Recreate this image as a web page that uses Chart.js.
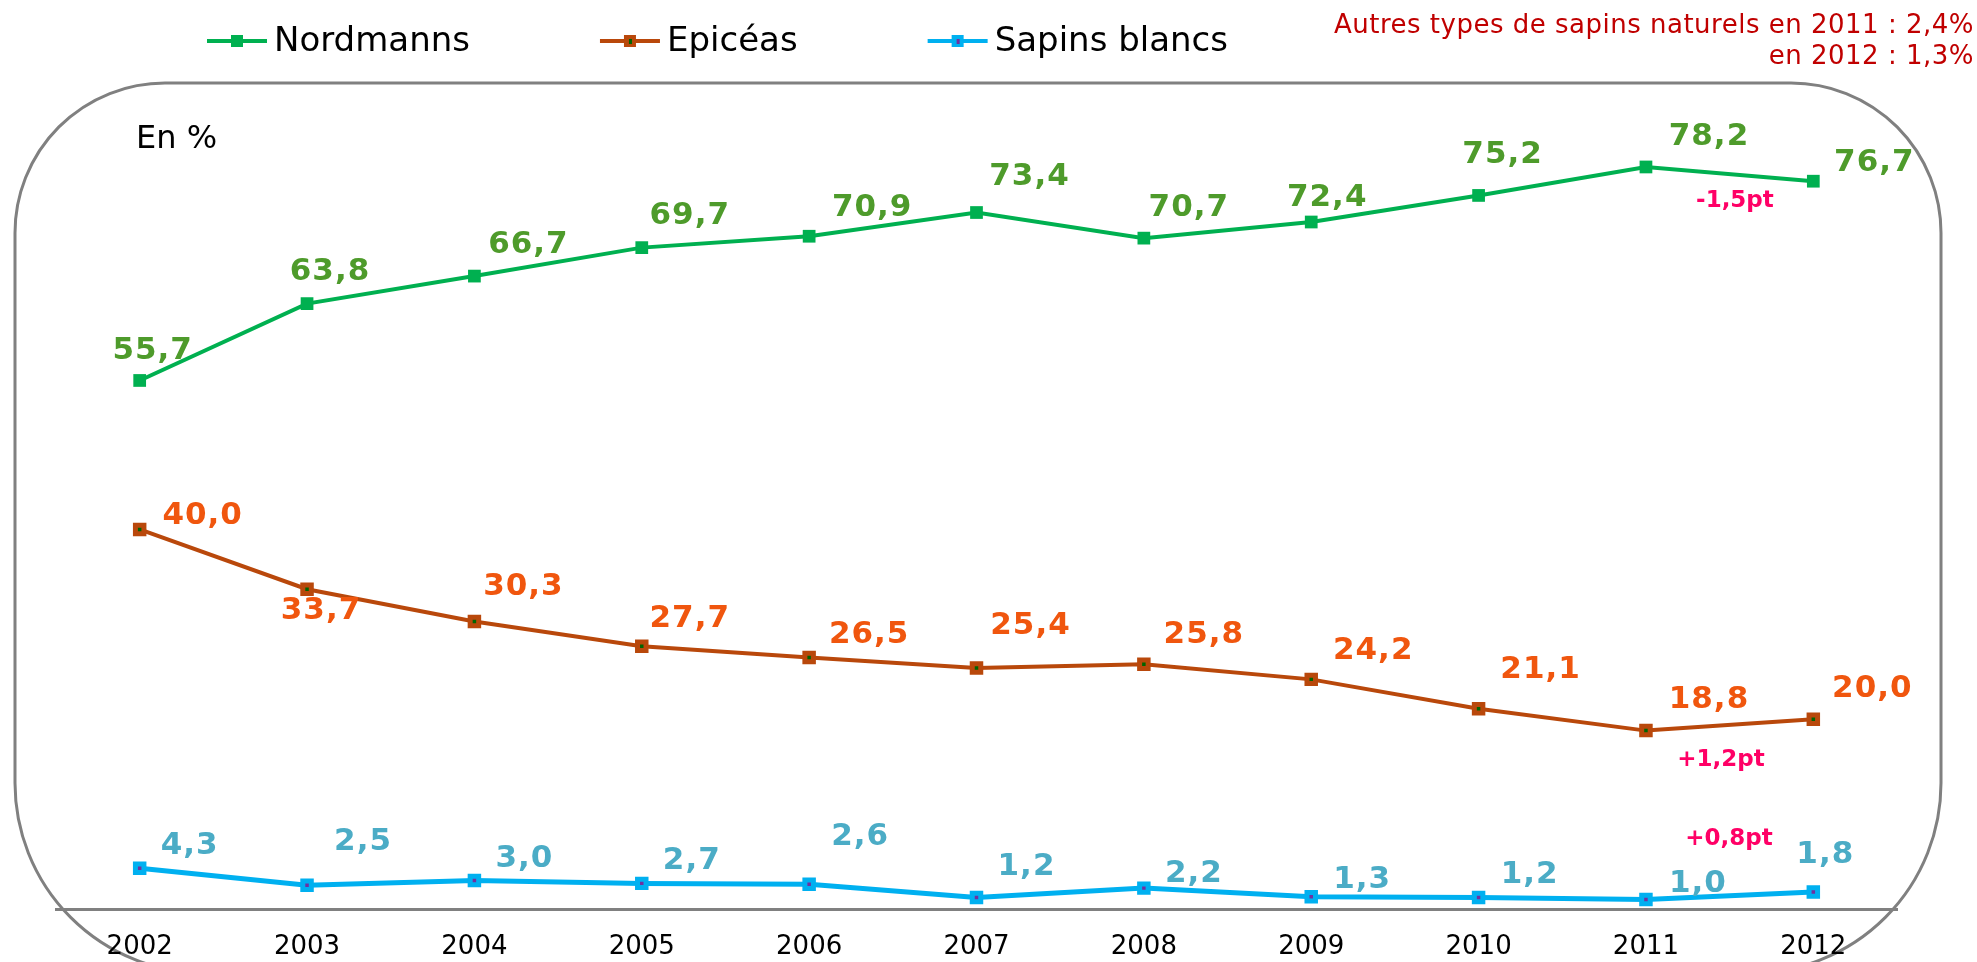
<!DOCTYPE html>
<html>
<head>
<meta charset="utf-8">
<script src="https://cdn.jsdelivr.net/npm/chart.js@4.4.0/dist/chart.umd.min.js"></script>
<style>
  html, body { margin: 0; padding: 0; background: #fff; }
  #wrap { position: relative; width: 1977px; height: 962px; }
</style>
</head>
<body>
<div id="wrap"><canvas id="myChart" width="1977" height="962"></canvas></div>
<script>
// data (en %)
var years = ["2002", "2003", "2004", "2005", "2006", "2007", "2008", "2009", "2010", "2011", "2012"];
var nordmanns = [55.7, 63.8, 66.7, 69.7, 70.9, 73.4, 70.7, 72.4, 75.2, 78.2, 76.7];
var epiceas = [40.0, 33.7, 30.3, 27.7, 26.5, 25.4, 25.8, 24.2, 21.1, 18.8, 20.0];
var sapinsBlancs = [4.3, 2.5, 3.0, 2.7, 2.6, 1.2, 2.2, 1.3, 1.2, 1.0, 1.8];
var evolutions = ["-1,5pt", "+1,2pt", "+0,8pt"];   // 2011 -> 2012, one per series
var noteLines = ["Autres types de sapins naturels en 2011 : 2,4%", "en 2012 : 1,3%"];

// where each value label sits, relative to its point
var labelOffsets = [
    [[13, -30], [23, -32], [54, -31], [48, -32], [63, -28], [53, -36], [45, -30], [16, -24], [24, -40], [63, -30], [61, -18]],
    [[63, -13], [14, 22], [49, -35], [48, -27], [60, -23], [54, -42], [60, -29], [62, -28], [62, -39], [63, -31], [59, -30]],
    [[50, -22], [56, -43], [50, -22], [50, -22], [51, -47], [50, -31], [50, -14], [51, -17], [51, -23], [52, -16], [12, -37]]
];
var evoOffsets = [[89, 34], [75, 29], [83, -60]];
var labelColors = ["#4e9b2b", "#f0560e", "#4bacc6"];

function fmt(v) {
    return v.toFixed(1).replace(".", ",");
}

var decor = {
    id: 'decor',
    beforeDraw: function (chart) {
        var ctx = chart.ctx;
        ctx.save();
        ctx.strokeStyle = "#808080";
        ctx.lineWidth = 3;
        ctx.beginPath();
        ctx.roundRect(15, 83, 1926, 890, [150, 150, 190, 190]);
        ctx.stroke();

        ctx.fillStyle = "#000";
        ctx.font = "32px 'DejaVu Sans'";
        ctx.textBaseline = "middle";
        ctx.fillText("En %", 136, 140);

        // note top right
        ctx.fillStyle = "#c00000";
        ctx.font = "26px 'DejaVu Sans'";
        ctx.letterSpacing = "0.5px";
        ctx.textAlign = "right";
        ctx.fillText(noteLines[0], 1974, 26);
        ctx.fillText(noteLines[1], 1974, 57);
        ctx.restore();
    },
    afterDatasetsDraw: function (chart) {
        var ctx = chart.ctx;
        ctx.save();
        ctx.textAlign = "center";
        ctx.textBaseline = "middle";
        chart.data.datasets.forEach(function (ds, i) {
            var meta = chart.getDatasetMeta(i);
            ctx.font = "bold 31px 'DejaVu Sans'";
            ctx.letterSpacing = "1px";
            ctx.fillStyle = labelColors[i];
            meta.data.forEach(function (pt, j) {
                var off = labelOffsets[i][j];
                ctx.fillText(fmt(ds.data[j]), pt.x + off[0], pt.y + off[1]);
            });
            // evolution 2011 -> 2012
            var p = meta.data[9];
            ctx.font = "bold 23px 'DejaVu Sans'";
            ctx.letterSpacing = "0px";
            ctx.fillStyle = "#ff0066";
            ctx.fillText(evolutions[i], p.x + evoOffsets[i][0], p.y + evoOffsets[i][1]);
        });

        // legend
        var x = 207, y = 41;
        ctx.textAlign = "left";
        ctx.letterSpacing = "0px";
        ctx.font = "34px 'DejaVu Sans'";
        chart.data.datasets.forEach(function (ds) {
            ctx.strokeStyle = ds.borderColor;
            ctx.lineWidth = 4;
            ctx.beginPath();
            ctx.moveTo(x, y);
            ctx.lineTo(x + 60, y);
            ctx.stroke();
            ctx.fillStyle = ds.pointBorderColor;
            ctx.fillRect(x + 24, y - 6, 12, 12);
            ctx.fillStyle = ds.pointBackgroundColor;
            ctx.fillRect(x + 29, y - 2, 3, 5);
            ctx.fillStyle = "#000";
            ctx.fillText(ds.label, x + 67, y + 1);
            x += 67 + ctx.measureText(ds.label).width + 130;
        });
        ctx.restore();
    }
};

var ctx = document.getElementById("myChart");
var myChart = new Chart(ctx, {
    type: 'line',
    data: {
        labels: years,
        datasets: [
            {
                label: "Nordmanns",
                data: nordmanns,
                borderColor: "#00b050",
                borderWidth: 4,
                pointStyle: 'rect',
                pointRadius: 9,
                pointBackgroundColor: "#00b050",
                pointBorderColor: "#00b050",
                pointBorderWidth: 0
            },
            {
                label: "Epicéas",
                data: epiceas,
                borderColor: "#b9480b",
                borderWidth: 4,
                pointStyle: 'rect',
                pointRadius: 6,
                pointBackgroundColor: "#006400",
                pointBorderColor: "#b9480b",
                pointBorderWidth: 5
            },
            {
                label: "Sapins blancs",
                data: sapinsBlancs,
                borderColor: "#00b0f0",
                borderWidth: 5,
                pointStyle: 'rect',
                pointRadius: 6,
                pointBackgroundColor: "#7030a0",
                pointBorderColor: "#00b0f0",
                pointBorderWidth: 5
            }
        ]
    },
    options: {
        responsive: false,
        animation: false,
        layout: { padding: { left: 56, right: 80, top: 55, bottom: 0 } },
        plugins: {
            legend: { display: false },
            tooltip: { enabled: false }
        },
        elements: { line: { tension: 0 } },
        scales: {
            x: {
                offset: true,
                grid: { display: false, drawTicks: false },
                border: { display: true, color: "#808080", width: 3 },
                ticks: {
                    color: "#000",
                    padding: 23,
                    font: { family: "'DejaVu Sans'", size: 26 }
                },
                afterFit: function (scale) { scale.height = 53; }
            },
            y: {
                display: false,
                min: 0,
                max: 90
            }
        }
    },
    plugins: [decor]
});
</script>
</body>
</html>
